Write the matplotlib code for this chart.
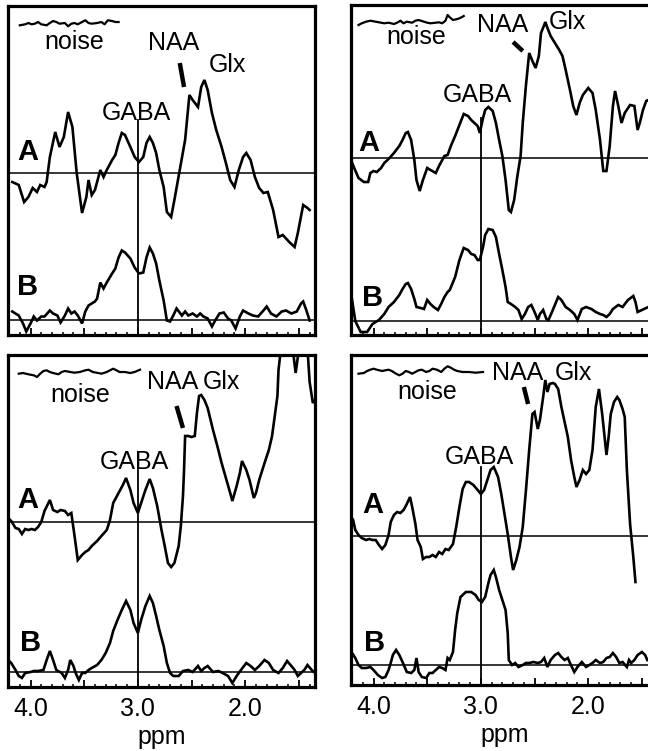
import numpy as np
import matplotlib.pyplot as plt
from matplotlib.ticker import MultipleLocator, FuncFormatter

plt.rcParams['font.family'] = ['Liberation Sans', 'DejaVu Sans']

# spectra as (ppm, amplitude) pairs; amplitude in display units above each baseline
# (A) = edited spectrum, (B) = fitted / GABA-only spectrum
TL_A = np.array([
    (4.17, -9), (4.11, -12), (4.06, -29), (4.02, -24), (3.98, -15), (3.94, -19),
    (3.91, -12), (3.87, -14), (3.85, -9), (3.82, 16), (3.77, 41), (3.73, 26),
    (3.69, 36), (3.65, 61), (3.61, 46), (3.57, 0), (3.52, -40), (3.48, -24),
    (3.46, -7), (3.43, -22), (3.40, -17), (3.35, 3), (3.32, -4), (3.29, 3),
    (3.24, 13), (3.21, 18), (3.18, 30), (3.15, 40), (3.12, 38), (3.07, 26),
    (3.03, 16), (2.99, 11), (2.95, 16), (2.92, 30), (2.89, 36), (2.86, 30),
    (2.83, 20), (2.80, 3), (2.76, -14), (2.73, -39), (2.69, -44), (2.66, -27),
    (2.61, 3), (2.56, 33), (2.52, 78), (2.49, 73), (2.44, 66), (2.41, 86),
    (2.38, 93), (2.35, 83), (2.31, 60), (2.27, 43), (2.22, 26), (2.18, 10),
    (2.14, -7), (2.10, -14), (2.06, 3), (2.02, 16), (1.99, 20), (1.95, 13),
    (1.91, -4), (1.87, -15), (1.83, -20), (1.79, -19), (1.74, -37), (1.69, -64),
    (1.65, -62), (1.59, -69), (1.54, -74), (1.51, -60), (1.46, -32), (1.42, -35),
    (1.40, -37)])
TL_B = np.array([
    (4.17, 8), (4.11, 4), (4.07, -4), (4.04, -12), (4.00, -4), (3.97, 3),
    (3.94, -1), (3.90, 3), (3.87, 3), (3.82, 9), (3.79, 6), (3.75, 4),
    (3.72, -3), (3.68, 4), (3.65, 11), (3.62, 6), (3.59, 8), (3.56, 4),
    (3.52, -4), (3.49, 8), (3.46, 14), (3.43, 16), (3.40, 18), (3.38, 21),
    (3.35, 37), (3.32, 31), (3.29, 37), (3.24, 46), (3.21, 51), (3.18, 62),
    (3.15, 69), (3.12, 67), (3.07, 61), (3.03, 52), (2.99, 46), (2.95, 47),
    (2.92, 62), (2.89, 72), (2.86, 66), (2.83, 56), (2.80, 39), (2.76, 19),
    (2.73, -1), (2.70, -2), (2.67, 4), (2.64, 11), (2.59, 4), (2.56, 8),
    (2.53, 4), (2.49, 6), (2.45, 3), (2.42, 6), (2.39, 3), (2.35, 1),
    (2.31, -7), (2.28, -1), (2.24, 6), (2.20, 7), (2.16, 1), (2.13, -1),
    (2.09, -9), (2.05, 3), (2.02, 9), (1.97, 6), (1.93, 4), (1.88, 3),
    (1.83, 9), (1.80, 13), (1.76, 6), (1.71, 3), (1.66, 8), (1.62, 9),
    (1.57, 6), (1.52, 8), (1.48, 16), (1.46, 18), (1.43, 9), (1.40, -1)])
TL_NOISE = np.array([
    (4.10, -2.3), (4.05, -1.3), (4.02, 0), (3.99, -1.3), (3.96, -0.7), (3.93, 1),
    (3.90, -1.3), (3.85, -2.3), (3.82, 0), (3.79, 2), (3.76, 1), (3.73, -0.7),
    (3.68, 0), (3.65, -3.3), (3.62, -0.7), (3.59, 0), (3.56, -1.3), (3.52, 1),
    (3.49, 2.7), (3.46, 0), (3.43, -0.7), (3.38, 0), (3.34, 1), (3.31, -1.3),
    (3.28, 2.7), (3.24, 2), (3.21, 1), (3.18, 1)])

TR_A = np.array([
    (4.21, -2), (4.18, -10), (4.14, -20), (4.09, -24), (4.05, -24), (4.03, -15),
    (4.00, -13), (3.97, -14), (3.93, -10), (3.90, -5), (3.86, -1), (3.81, 5),
    (3.76, 12), (3.73, 18), (3.70, 25), (3.68, 26), (3.65, 18), (3.62, -2),
    (3.60, -22), (3.57, -33), (3.54, -22), (3.50, -10), (3.47, -12), (3.42, -15),
    (3.39, -8), (3.34, 2), (3.31, 3), (3.28, 12), (3.24, 22), (3.20, 33),
    (3.16, 44), (3.12, 42), (3.09, 38), (3.06, 35), (3.03, 32), (3.01, 25),
    (2.98, 40), (2.96, 48), (2.93, 51), (2.89, 47), (2.86, 35), (2.83, 18),
    (2.80, 2), (2.77, -22), (2.74, -52), (2.72, -54), (2.69, -42), (2.66, -18),
    (2.63, 2), (2.61, 35), (2.58, 73), (2.55, 105), (2.52, 97), (2.49, 90),
    (2.46, 102), (2.44, 125), (2.41, 133), (2.40, 136), (2.38, 130), (2.35, 122),
    (2.31, 115), (2.27, 108), (2.24, 102), (2.21, 88), (2.17, 68), (2.14, 52),
    (2.11, 43), (2.08, 55), (2.05, 63), (2.00, 70), (1.96, 65), (1.93, 48),
    (1.89, 18), (1.86, -13), (1.83, -13), (1.80, 12), (1.77, 52), (1.75, 67),
    (1.72, 52), (1.69, 35), (1.66, 45), (1.61, 53), (1.57, 52), (1.54, 28),
    (1.52, 35), (1.49, 48), (1.46, 57), (1.44, 58), (1.40, 50)])
TR_B = np.array([
    (4.21, 28), (4.17, 0), (4.12, -11), (4.06, -11), (4.01, -3), (3.95, 1),
    (3.90, 7), (3.86, 14), (3.81, 19), (3.76, 26), (3.73, 32), (3.70, 37),
    (3.68, 38), (3.65, 32), (3.62, 22), (3.60, 14), (3.56, 13), (3.53, 12),
    (3.50, 21), (3.47, 17), (3.44, 14), (3.40, 11), (3.37, 17), (3.34, 24),
    (3.31, 29), (3.29, 31), (3.24, 44), (3.20, 61), (3.16, 73), (3.12, 71),
    (3.09, 67), (3.06, 66), (3.03, 61), (3.01, 61), (2.98, 74), (2.96, 86),
    (2.93, 92), (2.89, 91), (2.86, 84), (2.83, 67), (2.80, 51), (2.77, 34),
    (2.75, 19), (2.72, 17), (2.68, 14), (2.65, 11), (2.62, 2), (2.59, 7),
    (2.56, 14), (2.53, 16), (2.50, 9), (2.47, 1), (2.45, 7), (2.42, 11),
    (2.39, 2), (2.37, 1), (2.33, 11), (2.28, 24), (2.25, 21), (2.21, 14),
    (2.17, 11), (2.13, 7), (2.10, 1), (2.06, 12), (2.02, 14), (1.97, 12),
    (1.93, 9), (1.89, 7), (1.86, 6), (1.83, 4), (1.80, 7), (1.77, 12),
    (1.72, 16), (1.68, 14), (1.63, 21), (1.58, 25), (1.56, 19), (1.54, 9),
    (1.50, 11), (1.46, 13), (1.44, 14), (1.40, 12)])
TR_NOISE = np.array([
    (4.14, -3), (4.11, -1.3), (4.07, 0.3), (4.03, 1.3), (3.98, 0.3), (3.93, -0.7),
    (3.90, -1.3), (3.86, -0.7), (3.81, -2), (3.78, -0.7), (3.75, 1.3), (3.72, -1.3),
    (3.69, 0.3), (3.64, -0.7), (3.61, 1.3), (3.58, 2), (3.53, 0.3), (3.50, -0.7),
    (3.47, -1.3), (3.42, -0.7), (3.39, -0.3), (3.36, -1.3), (3.33, 1.3), (3.31, 7),
    (3.29, 4.7), (3.26, 2), (3.23, 2.7), (3.20, 3.7), (3.17, 5.3), (3.16, 6)])

BL_A = np.array([
    (4.21, 4), (4.18, 1), (4.14, -6), (4.11, -7), (4.08, -12), (4.05, -7),
    (4.02, -8), (3.99, -7), (3.96, -8), (3.93, -5), (3.90, 0), (3.87, 11),
    (3.82, 22), (3.79, 12), (3.75, 10), (3.72, 12), (3.68, 11), (3.65, 7),
    (3.62, 9), (3.59, -14), (3.56, -38), (3.52, -33), (3.49, -30), (3.46, -28),
    (3.43, -24), (3.38, -19), (3.34, -14), (3.29, -8), (3.26, 2), (3.23, 19),
    (3.18, 29), (3.14, 37), (3.11, 44), (3.07, 32), (3.04, 19), (3.00, 9),
    (2.97, 19), (2.93, 32), (2.89, 43), (2.86, 34), (2.82, 16), (2.78, -8),
    (2.75, -24), (2.72, -41), (2.69, -45), (2.66, -41), (2.62, -24), (2.60, -4),
    (2.58, 26), (2.57, 52), (2.56, 86), (2.53, 86), (2.50, 85), (2.47, 86),
    (2.45, 109), (2.43, 126), (2.41, 127), (2.38, 122), (2.35, 114), (2.30, 92),
    (2.26, 76), (2.22, 59), (2.18, 44), (2.14, 29), (2.12, 21), (2.08, 36),
    (2.05, 49), (2.03, 61), (1.99, 52), (1.96, 42), (1.92, 24), (1.90, 29),
    (1.87, 42), (1.82, 59), (1.78, 72), (1.75, 86), (1.73, 102), (1.70, 126),
    (1.69, 152), (1.66, 180), (1.62, 200), (1.56, 175), (1.53, 149), (1.51, 165),
    (1.48, 185), (1.43, 190), (1.40, 140), (1.37, 119), (1.35, 122)])
BL_B = np.array([
    (4.21, 12), (4.18, 9), (4.14, 2), (4.11, -4), (4.08, -6), (4.05, -1),
    (4.00, 0), (3.97, 1), (3.93, 1), (3.88, 2), (3.85, 12), (3.82, 21),
    (3.79, 12), (3.76, 2), (3.71, -1), (3.68, -6), (3.65, 2), (3.63, 12),
    (3.60, 6), (3.58, -1), (3.55, -8), (3.52, -1), (3.49, -1), (3.46, 2),
    (3.43, 4), (3.38, 7), (3.34, 12), (3.30, 19), (3.26, 29), (3.23, 41),
    (3.19, 52), (3.15, 62), (3.11, 71), (3.07, 62), (3.04, 49), (3.00, 39),
    (2.97, 52), (2.93, 66), (2.89, 76), (2.86, 69), (2.83, 56), (2.80, 42),
    (2.76, 26), (2.73, 9), (2.70, -1), (2.67, -4), (2.62, -4), (2.58, 1),
    (2.53, 2), (2.49, 0), (2.44, 6), (2.41, 1), (2.38, 4), (2.35, 6),
    (2.30, 0), (2.25, 1), (2.21, -1), (2.16, -4), (2.12, -11), (2.08, -4),
    (2.04, 2), (1.99, 9), (1.95, 6), (1.91, 2), (1.87, 6), (1.82, 12),
    (1.78, 9), (1.74, 2), (1.69, -1), (1.65, 4), (1.61, 11), (1.57, 6),
    (1.54, 2), (1.51, -4), (1.48, -1), (1.45, 2), (1.42, 7), (1.38, 2),
    (1.35, -1)])
BL_NOISE = np.array([
    (4.11, -1.7), (4.07, -1), (4.02, -2.3), (3.97, -3.3), (3.94, -5), (3.91, -1.7),
    (3.88, 1), (3.85, 1.7), (3.82, 0), (3.79, -1), (3.74, -2.3), (3.71, 0),
    (3.68, 1), (3.63, 0), (3.59, -0.7), (3.54, 0), (3.49, 1.7), (3.46, 2.3),
    (3.42, 0), (3.37, -1), (3.34, -1.7), (3.29, 0), (3.26, 1.7), (3.23, 3.3),
    (3.20, 1.7), (3.17, 0), (3.12, 0), (3.07, -1), (3.03, 0), (2.98, 2.3)])

BR_A = np.array([
    (4.22, 21), (4.19, 16), (4.17, 6), (4.14, 1), (4.11, -2), (4.07, -4),
    (4.04, -3), (4.01, -4), (3.98, -4), (3.95, -9), (3.92, -13), (3.89, -9),
    (3.86, 1), (3.84, 14), (3.81, 21), (3.78, 24), (3.75, 23), (3.72, 26),
    (3.69, 32), (3.66, 39), (3.64, 29), (3.61, 12), (3.59, -4), (3.56, -11),
    (3.54, -23), (3.51, -21), (3.48, -21), (3.45, -19), (3.42, -21), (3.39, -16),
    (3.36, -18), (3.33, -13), (3.30, -14), (3.26, -8), (3.23, 9), (3.20, 29),
    (3.17, 47), (3.14, 54), (3.11, 54), (3.07, 51), (3.03, 46), (3.00, 42),
    (2.97, 46), (2.94, 56), (2.91, 66), (2.88, 69), (2.84, 59), (2.81, 42),
    (2.78, 22), (2.75, 2), (2.72, -21), (2.70, -34), (2.67, -24), (2.64, -11),
    (2.61, 9), (2.58, 46), (2.55, 86), (2.52, 122), (2.50, 124), (2.47, 107),
    (2.45, 116), (2.42, 139), (2.40, 156), (2.38, 144), (2.36, 152), (2.33, 153),
    (2.31, 152), (2.28, 147), (2.25, 129), (2.22, 114), (2.19, 99), (2.16, 76),
    (2.13, 59), (2.11, 49), (2.08, 56), (2.05, 66), (2.02, 62), (1.99, 66),
    (1.96, 86), (1.93, 129), (1.90, 147), (1.87, 122), (1.83, 81), (1.81, 99),
    (1.79, 122), (1.76, 134), (1.73, 139), (1.71, 136), (1.68, 127), (1.66, 119),
    (1.64, 66), (1.61, 12), (1.58, -21), (1.56, -46)])
BR_B = np.array([
    (4.22, 10), (4.20, 12), (4.17, 7), (4.14, 0), (4.11, -3), (4.07, -3),
    (4.03, -2), (4.00, -5), (3.96, -10), (3.92, -13), (3.89, -12), (3.86, -5),
    (3.84, 2), (3.82, 10), (3.79, 15), (3.76, 10), (3.73, 3), (3.69, -7),
    (3.65, -8), (3.62, -5), (3.60, 7), (3.58, -7), (3.55, -12), (3.51, -13),
    (3.48, -8), (3.45, -8), (3.42, -5), (3.39, -2), (3.36, -3), (3.33, -5),
    (3.31, 7), (3.29, 5), (3.26, 13), (3.24, 35), (3.22, 52), (3.19, 68),
    (3.14, 73), (3.09, 73), (3.05, 70), (3.02, 65), (2.99, 63), (2.96, 68),
    (2.93, 82), (2.91, 90), (2.88, 95), (2.86, 88), (2.83, 75), (2.80, 65),
    (2.77, 55), (2.75, 32), (2.74, 5), (2.71, 0), (2.68, 2), (2.65, -2),
    (2.61, 0), (2.58, 2), (2.55, 2), (2.51, 3), (2.47, 2), (2.44, 3),
    (2.41, 7), (2.38, -2), (2.35, 5), (2.31, 10), (2.28, 12), (2.25, 8),
    (2.22, 5), (2.19, 7), (2.17, 2), (2.13, -7), (2.10, -2), (2.06, 3),
    (2.02, -2), (1.99, 0), (1.96, 2), (1.93, 5), (1.89, 2), (1.86, 3),
    (1.83, 7), (1.80, 8), (1.77, 12), (1.74, 8), (1.71, 2), (1.68, 3),
    (1.64, -2), (1.62, 5), (1.60, 2), (1.57, 5), (1.54, 10), (1.50, 13),
    (1.47, 10), (1.45, 5), (1.40, 8)])
BR_NOISE = np.array([
    (4.14, -2.7), (4.09, -2), (4.06, 0), (4.03, 1.3), (4.00, 2.3), (3.97, 1.3),
    (3.92, 0), (3.89, 0.7), (3.86, 1.3), (3.83, 0), (3.79, -2.7), (3.76, -4.3),
    (3.73, -2.7), (3.70, 0), (3.67, -1), (3.64, -2.7), (3.61, -1), (3.58, 0.7),
    (3.55, 1.3), (3.51, -1), (3.48, 0), (3.45, 2.3), (3.41, 1.3), (3.37, -1),
    (3.34, 2.3), (3.31, 4.7), (3.28, 3.3), (3.25, 1.3), (3.22, 0), (3.17, -1),
    (3.11, -1), (3.05, -1.7), (2.98, -1)])

PPM_LIMITS = (4.21, 1.35)
FIG_W, FIG_H = 648, 751

fig = plt.figure(figsize=(FIG_W / 100, FIG_H / 100), dpi=100)


def draw_panel(left, bottom, height, spec_a, spec_b, noise, base_a, base_b,
               base_noise, text_pos, naa_mark, vline_top, tick_labels):
    ax = fig.add_axes([left / FIG_W, 1 - bottom / FIG_H,
                       307 / FIG_W, height / FIG_H])
    ax.set_xlim(*PPM_LIMITS)
    ax.set_ylim(0, height)

    ax.axhline(base_a, color='black', lw=1.1)
    ax.axhline(base_b, color='black', lw=1.1)
    ax.plot([3.0, 3.0], [0, vline_top], color='black', lw=1.3)

    ax.plot(spec_a[:, 0], spec_a[:, 1] + base_a, color='black', lw=1.9,
            solid_joinstyle='miter')
    ax.plot(spec_b[:, 0], spec_b[:, 1] + base_b, color='black', lw=1.9,
            solid_joinstyle='miter')
    ax.plot(noise[:, 0], noise[:, 1] + base_noise, color='black', lw=1.6)

    for label, (x, y) in text_pos.items():
        if label in ('A', 'B'):
            ax.text(x, y, label, fontsize=21, fontweight='bold',
                    ha='center', va='center')
        else:
            ax.text(x, y, label, fontsize=18, ha='center', va='center')
    (x0, y0), (x1, y1) = naa_mark
    ax.plot([x0, x1], [y0, y1], color='black', lw=3.2, solid_capstyle='butt')

    for side in ('left', 'right', 'top', 'bottom'):
        ax.spines[side].set_linewidth(2.3)
    ax.set_yticks([])
    ax.xaxis.set_major_locator(MultipleLocator(0.5))
    ax.xaxis.set_minor_locator(MultipleLocator(0.1))
    ax.tick_params(axis='x', which='major', direction='in', length=5,
                   width=1.3, pad=7, labelsize=18)
    ax.tick_params(axis='x', which='minor', direction='in', length=2.5,
                   width=1.1)
    if tick_labels:
        ax.xaxis.set_major_formatter(FuncFormatter(
            lambda v, _: f'{v:.1f}' if abs(v - round(v)) < 1e-6 else ''))
        ax.set_xlabel('ppm', fontsize=18, labelpad=3)
    else:
        ax.set_xticklabels([])
    return ax


draw_panel(8, 335, 329, TL_A, TL_B, TL_NOISE, 162, 15.5, 312,
           {'noise': (3.59, 293), 'NAA': (2.67, 292), 'Glx': (2.17, 270),
            'GABA': (3.01, 222), 'A': (4.03, 183), 'B': (4.03, 48)},
           ((2.61, 272), (2.57, 248)), 215, False)

draw_panel(351, 335, 330, TR_A, TR_B, TR_NOISE, 177, 14, 313,
           {'noise': (3.60, 298), 'NAA': (2.80, 310), 'Glx': (2.19, 313),
            'GABA': (3.03, 240), 'A': (4.04, 192), 'B': (4.01, 37)},
           ((2.70, 293), (2.61, 284)), 217, False)

draw_panel(8, 687, 332, BL_A, BL_B, BL_NOISE, 165, 15, 315,
           {'noise': (3.54, 292), 'NAA': (2.68, 305), 'Glx': (2.22, 305),
            'GABA': (3.03, 225), 'A': (4.03, 187), 'B': (4.00, 44)},
           ((2.64, 281), (2.58, 259)), 217, True)

draw_panel(351, 685, 330, BR_A, BR_B, BR_NOISE, 149, 20, 314,
           {'noise': (3.50, 293), 'NAA': (2.66, 312), 'Glx': (2.14, 312),
            'GABA': (3.01, 228), 'A': (4.01, 180), 'B': (3.99, 42)},
           ((2.60, 298), (2.56, 281)), 218, True)

fig.savefig('out.png', dpi=100)
